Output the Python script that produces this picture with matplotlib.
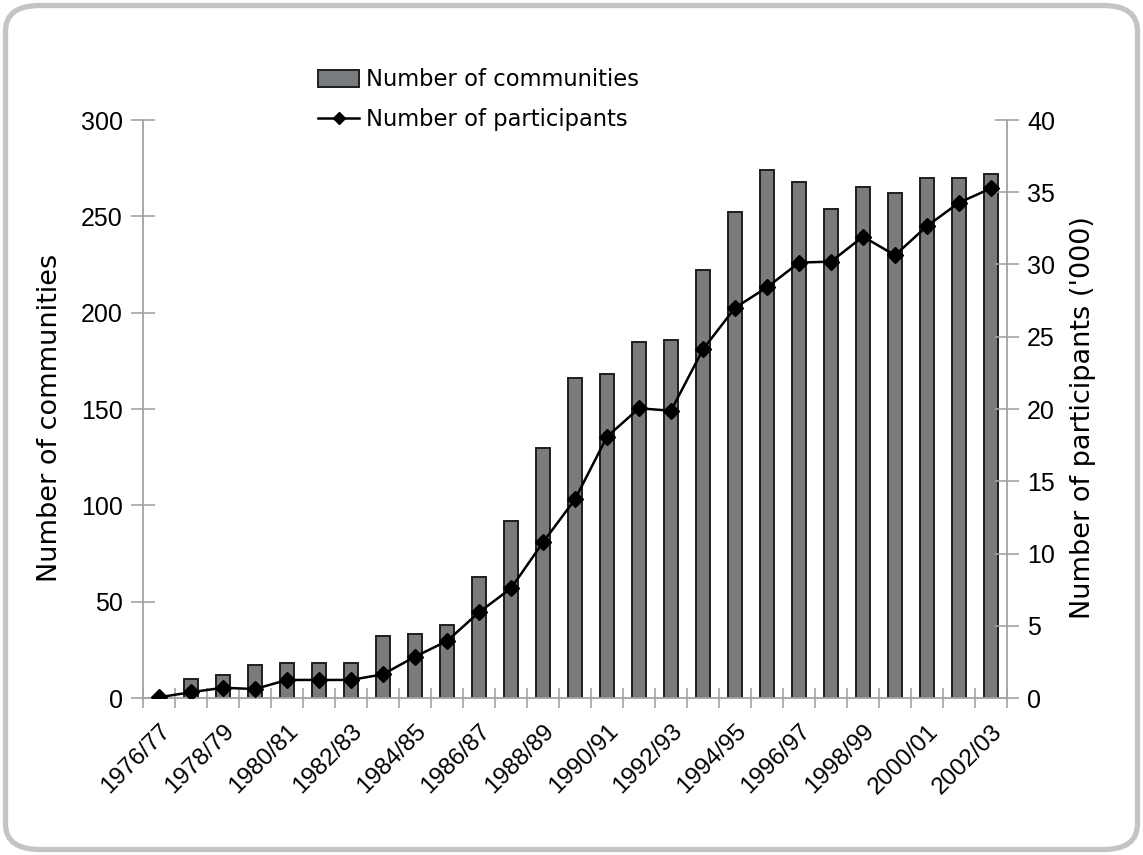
import matplotlib
matplotlib.use("Agg")
import matplotlib.pyplot as plt
from matplotlib.patches import FancyBboxPatch
from matplotlib.lines import Line2D
from matplotlib.patches import Patch
import matplotlib.transforms as mtransforms
import numpy as np

years = ["1976/77", "1977/78", "1978/79", "1979/80", "1980/81", "1981/82", "1982/83",
         "1983/84", "1984/85", "1985/86", "1986/87", "1987/88", "1988/89", "1989/90",
         "1990/91", "1991/92", "1992/93", "1993/94", "1994/95", "1995/96", "1996/97",
         "1997/98", "1998/99", "1999/00", "2000/01", "2001/02", "2002/03"]
communities = [0, 10, 12, 17, 18, 18, 18, 32, 33, 38, 63, 92, 130, 166, 168, 185, 186,
               222, 252, 274, 268, 254, 265, 262, 270, 270, 272]
participants = [0.05, 0.4, 0.71, 0.62, 1.25, 1.25, 1.25, 1.64, 2.86, 3.94, 5.93, 7.59,
                10.77, 13.75, 18.08, 20.05, 19.88, 24.13, 27.0, 28.42, 30.13, 30.2,
                31.93, 30.64, 32.66, 34.28, 35.27]

W, H = 1143, 855
fig = plt.figure(figsize=(W / 100, H / 100), dpi=100)
fig.patch.set_facecolor("white")

# rounded frame
frame = FancyBboxPatch((5.5 / W, 5.5 / H), (W - 11) / W, (H - 11) / H,
                       boxstyle="round,pad=0,rounding_size=0.03",
                       transform=fig.transFigure, facecolor="none",
                       edgecolor="#c3c4c6", linewidth=3.8, zorder=-5)
fig.patches.append(frame)

ax = fig.add_axes([143 / W, 1 - 698 / H, (1007 - 143) / W, (698 - 120) / H])
ax.set_facecolor("none")
ax2 = ax.twinx()

x = np.arange(len(years))
axis_col = "#a3a3a3"

ax.bar(x, communities, width=0.42, color="#797c7f", edgecolor="#1e1e1e",
       linewidth=1.4, zorder=2)
ax2.plot(x, participants, color="black", linewidth=1.8, marker="D",
         markersize=8, markerfacecolor="black", markeredgecolor="black", zorder=3)

ax.set_xlim(-0.5, len(years) - 0.5)
ax.set_ylim(0, 300)
ax2.set_ylim(0, 40)
ax.set_yticks(range(0, 301, 50))
ax2.set_yticks(range(0, 41, 5))

ax.set_xticks(x[::2])
ax.set_xticklabels(years[::2], rotation=45, ha="right", rotation_mode="anchor",
                   fontsize=17.5, family="Liberation Sans")
shift = mtransforms.ScaledTranslation(-4 / 100, -2 / 100, fig.dpi_scale_trans)
for lab in ax.get_xticklabels():
    lab.set_transform(lab.get_transform() + shift)
ax.set_xticks(np.arange(-0.5, len(years), 1.0), minor=True)
ax.tick_params(axis="x", which="major", length=0, pad=16)
ax.tick_params(axis="x", which="minor", direction="inout", length=15,
               color=axis_col, width=1.2)

for a in (ax, ax2):
    for s in a.spines.values():
        s.set_visible(False)
ax.spines["left"].set_visible(True)
ax.spines["bottom"].set_visible(True)
ax2.spines["right"].set_visible(True)
for s in (ax.spines["left"], ax.spines["bottom"], ax2.spines["right"]):
    s.set_color(axis_col)
    s.set_linewidth(1.3)

ax.tick_params(axis="y", direction="inout", length=17, color=axis_col, width=1.2,
               labelsize=18, pad=6)
ax2.tick_params(axis="y", direction="inout", length=17, color=axis_col, width=1.2,
                labelsize=18, pad=6)
for lab in ax.get_yticklabels() + ax2.get_yticklabels():
    lab.set_family("Liberation Sans")

ax.set_ylabel("Number of communities", fontsize=19.5, family="DejaVu Sans", labelpad=13)
ax2.set_ylabel("Number of participants ('000)", fontsize=19.5, family="DejaVu Sans",
               labelpad=11)
ax.yaxis.label.set_y(0.485)
ax2.yaxis.label.set_y(0.485)

handles = [Patch(facecolor="#797c7f", edgecolor="#1e1e1e", linewidth=1.4),
           Line2D([0], [0], color="black", linewidth=1.8, marker="D", markersize=6)]
leg = fig.legend(handles, ["Number of communities", "Number of participants"],
                 loc="upper left", bbox_to_anchor=(298 / W, 1 - 48 / H),
                 frameon=False, prop={"family": "DejaVu Sans", "size": 16.3},
                 handlelength=1.8, handleheight=0.75, handletextpad=0.3,
                 labelspacing=0.72)

fig.savefig("out.png", dpi=100, facecolor="white")
